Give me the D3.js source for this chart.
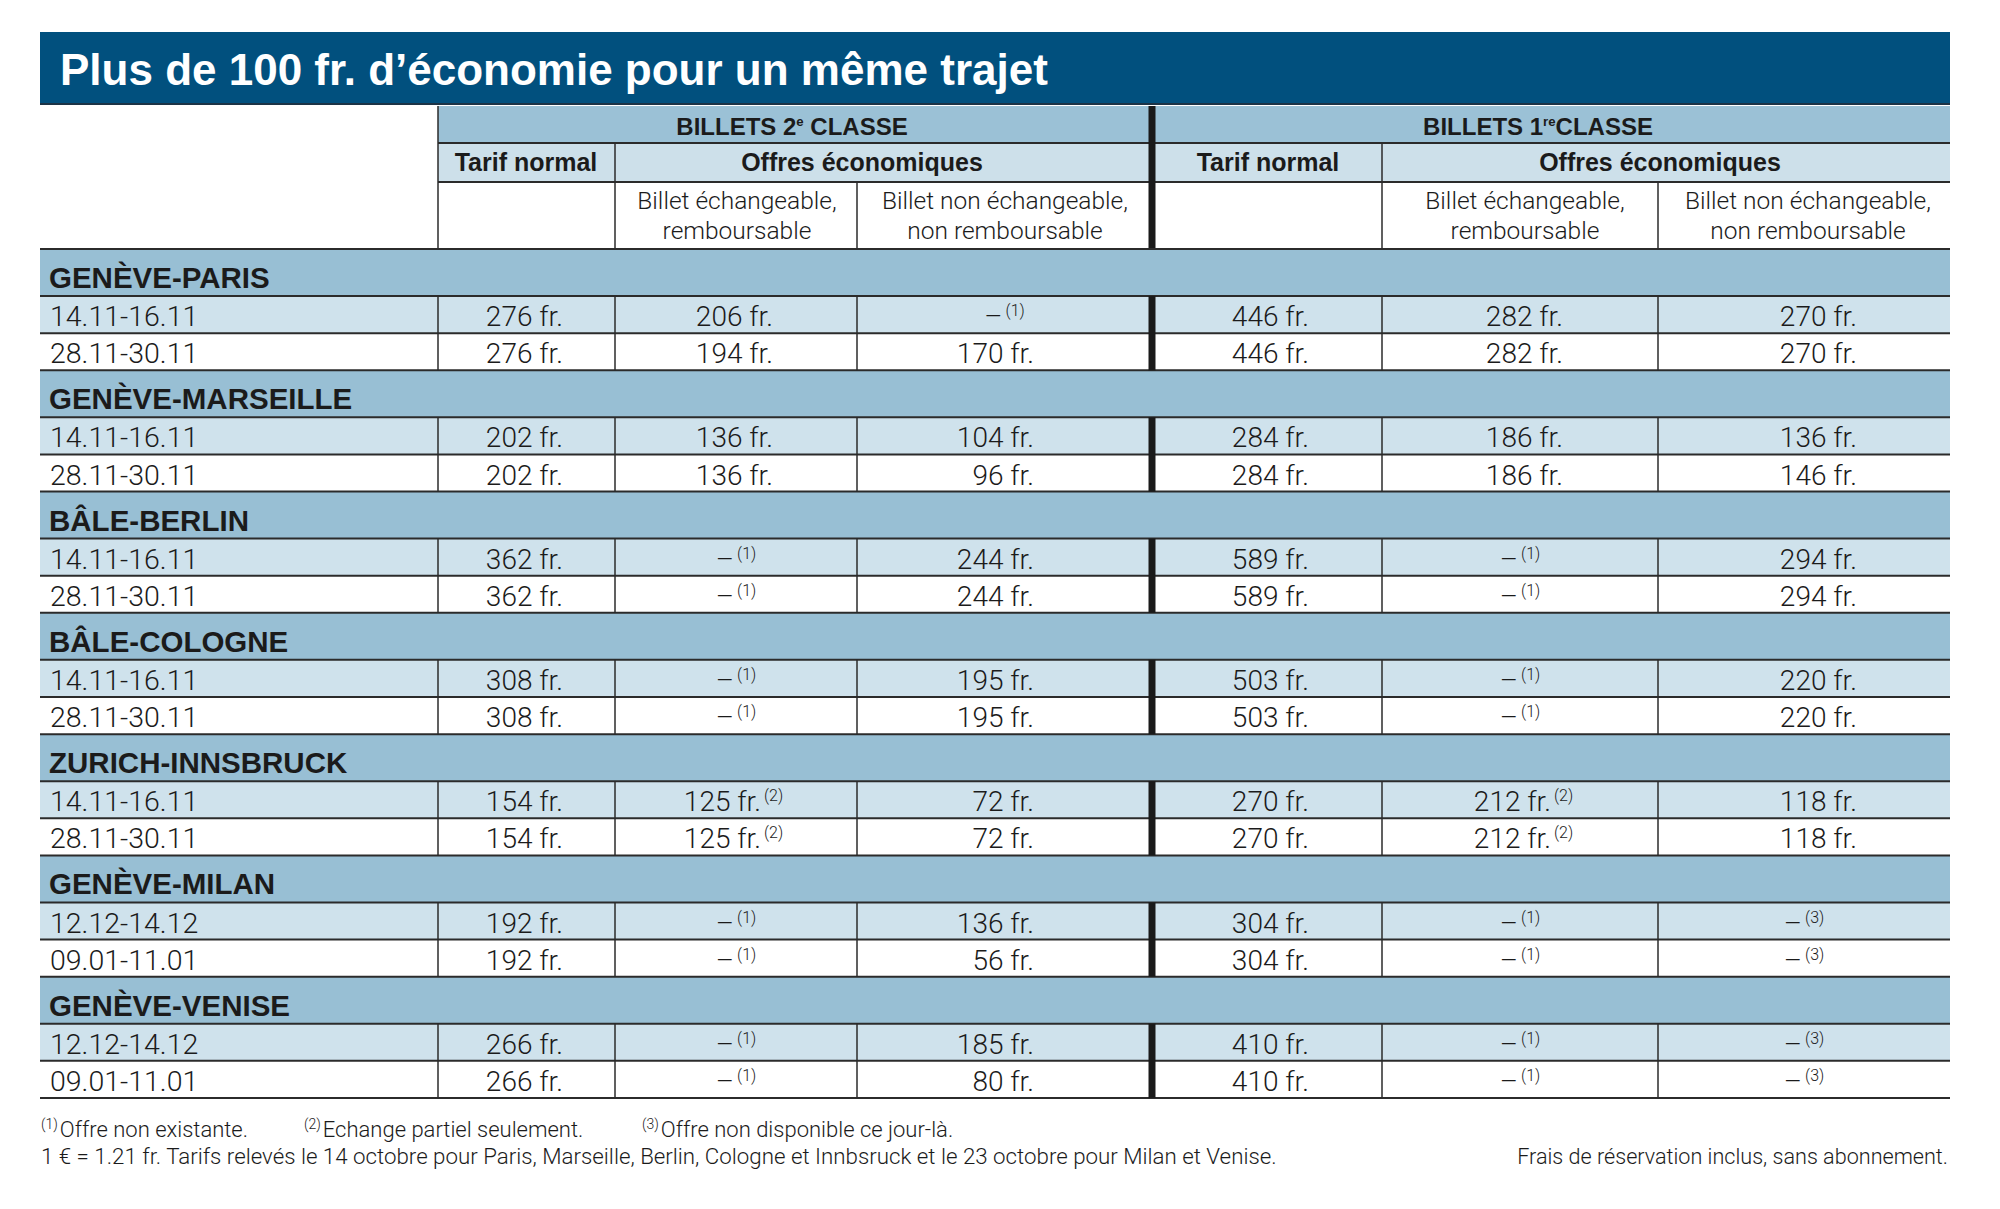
<!DOCTYPE html>
<html>
<head>
<meta charset="utf-8">
<script src="https://cdn.jsdelivr.net/npm/d3@7"></script>
<style>
  body { margin: 0; background: #fff; }
  svg { display: block; }
  .light { font-family: Roboto, "Open Sans", sans-serif; font-weight: 300; fill: #1b1b1b; }
  .bold { font-family: "Liberation Sans", Arial, sans-serif; font-weight: 700; fill: #1b1b1b; }
</style>
</head>
<body>
<svg id="chart" width="2000" height="1209"></svg>
<script>
var title = "Plus de 100 fr. d’économie pour un même trajet";
var routes = ["GENÈVE-PARIS", "GENÈVE-MARSEILLE", "BÂLE-BERLIN", "BÂLE-COLOGNE",
              "ZURICH-INNSBRUCK", "GENÈVE-MILAN", "GENÈVE-VENISE"];
var periods = ["14.11-16.11", "28.11-30.11", "14.11-16.11", "28.11-30.11",
               "14.11-16.11", "28.11-30.11", "14.11-16.11", "28.11-30.11",
               "14.11-16.11", "28.11-30.11", "12.12-14.12", "09.01-11.01",
               "12.12-14.12", "09.01-11.01"];
// null = offre absente, the note array gives the footnote number (0 = none)
var tarif2        = [276, 276, 202, 202, 362, 362, 308, 308, 154, 154, 192, 192, 266, 266];
var echange2      = [206, 194, 136, 136, null, null, null, null, 125, 125, null, null, null, null];
var echange2Note  = [0, 0, 0, 0, 1, 1, 1, 1, 2, 2, 1, 1, 1, 1];
var nonEch2       = [null, 170, 104, 96, 244, 244, 195, 195, 72, 72, 136, 56, 185, 80];
var nonEch2Note   = [1, 0, 0, 0, 0, 0, 0, 0, 0, 0, 0, 0, 0, 0];
var tarif1        = [446, 446, 284, 284, 589, 589, 503, 503, 270, 270, 304, 304, 410, 410];
var echange1      = [282, 282, 186, 186, null, null, null, null, 212, 212, null, null, null, null];
var echange1Note  = [0, 0, 0, 0, 1, 1, 1, 1, 2, 2, 1, 1, 1, 1];
var nonEch1       = [270, 270, 136, 146, 294, 294, 220, 220, 118, 118, null, null, null, null];
var nonEch1Note   = [0, 0, 0, 0, 0, 0, 0, 0, 0, 0, 3, 3, 3, 3];

var classHeads = [["BILLETS 2", "e", " CLASSE"], ["BILLETS 1", "re", "CLASSE"]];
var subHeads = ["Tarif normal", "Offres économiques"];
var offerHeads = [["Billet échangeable,", "remboursable"], ["Billet non échangeable,", "non remboursable"]];
var notes = ["Offre non existante.", "Echange partiel seulement.", "Offre non disponible ce jour-là."];
var sourceNote = "1 € = 1.21 fr. Tarifs relevés le 14 octobre pour Paris, Marseille, Berlin, Cologne et Innbsruck et le 23 octobre pour Milan et Venise.";
var rightNote = "Frais de réservation inclus, sans abonnement.";

// --- layout ---
var svg = d3.select("#chart");
var left = 40, right = 1950;
var edges = [40, 438, 615, 857, 1152, 1382, 1658, 1950];   // column borders
var divider = 1152;
var headTop = 106, headY1 = 143, headY2 = 182, bodyTop = 249, bodyBottom = 1098;
var groupH = 47;
var lineCol = "#2b2b2b";

var yBlock = d3.scaleLinear().domain([0, routes.length]).range([bodyTop, bodyBottom]);
var blockH = yBlock(1) - yBlock(0);
var rowH = (blockH - groupH) / 2;
var rowTop = function (i) { return yBlock(Math.floor(i / 2)) + groupH + (i % 2) * rowH; };

var columns = [
  { vals: tarif2,   notes: null,         pad: 52 },
  { vals: echange2, notes: echange2Note, pad: 84 },
  { vals: nonEch2,  notes: nonEch2Note,  pad: 118 },
  { vals: tarif1,   notes: null,         pad: 73 },
  { vals: echange1, notes: echange1Note, pad: 95 },
  { vals: nonEch1,  notes: nonEch1Note,  pad: 93 }
];
var colLeft = function (c) { return c === 3 ? edges[4] + 4 : edges[c + 1]; };
var colRight = function (c) { return edges[c + 2]; };

// title band
svg.append("rect").attr("x", left).attr("y", 32).attr("width", right - left).attr("height", 72)
  .attr("fill", "#01507e");
svg.append("line").attr("x1", left).attr("x2", right).attr("y1", 104).attr("y2", 104)
  .attr("stroke", "#1c3346").attr("stroke-width", 2);
svg.append("text").attr("class", "bold").attr("x", 60).attr("y", 85)
  .attr("font-size", 44).style("fill", "#fff").text(title);

// header fills
svg.append("rect").attr("x", edges[1]).attr("y", headTop).attr("width", right - edges[1])
  .attr("height", headY1 - headTop).attr("fill", "#9bc1d6");
svg.append("rect").attr("x", edges[1]).attr("y", headY1).attr("width", right - edges[1])
  .attr("height", headY2 - headY1).attr("fill", "#cde0ea");

// body fills
svg.selectAll("rect.group").data(routes).join("rect").attr("class", "group")
  .attr("x", left).attr("width", right - left)
  .attr("y", function (d, i) { return yBlock(i); }).attr("height", groupH)
  .attr("fill", "#98bfd4");
svg.selectAll("rect.stripe").data(periods.filter(function (d, i) { return i % 2 === 0; }))
  .join("rect").attr("class", "stripe")
  .attr("x", left).attr("width", right - left)
  .attr("y", function (d, i) { return rowTop(i * 2); }).attr("height", rowH)
  .attr("fill", "#cfe2ec");

// header lines
var hLines = [[edges[1], headY1], [edges[1], headY2]];
hLines.forEach(function (h) {
  svg.append("line").attr("x1", h[0]).attr("x2", right).attr("y1", h[1]).attr("y2", h[1])
    .attr("stroke", lineCol).attr("stroke-width", 2);
});
var vHead = [[edges[1], headTop], [edges[2], headY1], [edges[3], headY2], [edges[5], headY1], [edges[6], headY2]];
vHead.forEach(function (v) {
  svg.append("line").attr("x1", v[0]).attr("x2", v[0]).attr("y1", v[1]).attr("y2", bodyTop)
    .attr("stroke", lineCol).attr("stroke-width", 1.5);
});
svg.append("line").attr("x1", divider).attr("x2", divider).attr("y1", headTop).attr("y2", bodyTop)
  .attr("stroke", "#1a1a1a").attr("stroke-width", 7);

// body lines
var hBody = [bodyTop];
routes.forEach(function (r, b) {
  hBody.push(yBlock(b) + groupH, yBlock(b) + groupH + rowH, yBlock(b + 1));
});
svg.selectAll("line.h").data(hBody).join("line").attr("class", "h")
  .attr("x1", left).attr("x2", right).attr("y1", function (d) { return d; }).attr("y2", function (d) { return d; })
  .attr("stroke", lineCol).attr("stroke-width", 2);
routes.forEach(function (r, b) {
  var y1 = yBlock(b) + groupH, y2 = yBlock(b + 1);
  [edges[1], edges[2], edges[3], edges[5], edges[6]].forEach(function (x) {
    svg.append("line").attr("x1", x).attr("x2", x).attr("y1", y1).attr("y2", y2)
      .attr("stroke", lineCol).attr("stroke-width", 1.5);
  });
  svg.append("line").attr("x1", divider).attr("x2", divider).attr("y1", y1).attr("y2", y2)
    .attr("stroke", "#1a1a1a").attr("stroke-width", 7);
});

// header texts
function supText(x, y, parts, size) {
  var t = svg.append("text").attr("class", "bold").attr("x", x).attr("y", y)
    .attr("text-anchor", "middle").attr("font-size", size);
  t.append("tspan").text(parts[0]);
  t.append("tspan").attr("font-size", size * 0.55).attr("dy", -size * 0.38).text(parts[1]);
  t.append("tspan").attr("dy", size * 0.38).text(parts[2]);
}
supText(792, 135, classHeads[0], 24);
supText(1538, 135, classHeads[1], 24);

var subPos = [[526, subHeads[0]], [862, subHeads[1]], [1268, subHeads[0]], [1660, subHeads[1]]];
subPos.forEach(function (s) {
  svg.append("text").attr("class", "bold").attr("x", s[0]).attr("y", 171)
    .attr("text-anchor", "middle").attr("font-size", 25).text(s[1]);
});
var offerPos = [[737, 0], [1005, 1], [1525, 0], [1808, 1]];
offerPos.forEach(function (o) {
  offerHeads[o[1]].forEach(function (line, k) {
    svg.append("text").attr("class", "light").attr("x", o[0]).attr("y", 209 + k * 30)
      .attr("text-anchor", "middle").attr("font-size", 24.5).text(line);
  });
});

// route labels
svg.selectAll("text.route").data(routes).join("text").attr("class", "bold route")
  .attr("x", 49).attr("y", function (d, i) { return yBlock(i) + groupH - 8; })
  .attr("font-size", 29.5).text(function (d) { return d; });

// period labels
svg.selectAll("text.period").data(periods).join("text").attr("class", "light period")
  .attr("x", 50).attr("y", function (d, i) { return rowTop(i) + rowH - 7; })
  .attr("font-size", 28.5).text(function (d) { return d; });

// cells
columns.forEach(function (col, c) {
  var l = colLeft(c), r = colRight(c);
  col.vals.forEach(function (v, i) {
    var y = rowTop(i) + rowH - 7;
    var n = col.notes ? col.notes[i] : 0;
    if (v === null) {
      var t = svg.append("text").attr("class", "light").attr("x", (l + r) / 2).attr("y", y)
        .attr("text-anchor", "middle").attr("font-size", 28);
      t.append("tspan").text("–");
      t.append("tspan").attr("font-size", 16).attr("dx", 3).attr("dy", -10).text("(" + n + ")");
    } else {
      var xEnd = r - col.pad - (n ? 12 : 0);
      svg.append("text").attr("class", "light").attr("x", xEnd).attr("y", y)
        .attr("text-anchor", "end").attr("font-size", 28).text(v + " fr.");
      if (n) {
        svg.append("text").attr("class", "light").attr("x", xEnd + 3).attr("y", y - 10)
          .attr("font-size", 16).text("(" + n + ")");
      }
    }
  });
});

// footnotes
var notePos = [41, 304, 642];
notes.forEach(function (txt, k) {
  var t = svg.append("text").attr("class", "light").attr("x", notePos[k]).attr("y", 1137)
    .attr("font-size", 22);
  t.append("tspan").attr("font-size", 14).attr("dy", -8).text("(" + (k + 1) + ")");
  t.append("tspan").attr("dy", 8).attr("dx", 2).text(txt);
});
svg.append("text").attr("class", "light").attr("x", 41).attr("y", 1164)
  .attr("font-size", 22.3).text(sourceNote);
svg.append("text").attr("class", "light").attr("x", 1948).attr("y", 1164)
  .attr("text-anchor", "end").attr("font-size", 21.6).text(rightNote);
</script>
</body>
</html>
